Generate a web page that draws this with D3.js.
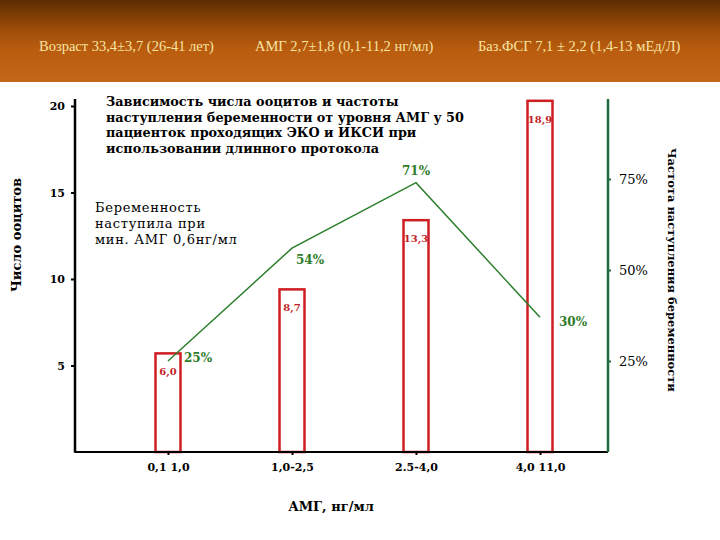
<!DOCTYPE html>
<html>
<head>
<meta charset="utf-8">
<script src="https://cdn.jsdelivr.net/npm/d3@7"></script>
<style>
  body { margin: 0; background: #fff; }
  svg { display: block; }
</style>
</head>
<body>
<div id="chart"></div>
<script>
// data
const headerTexts = ["Возраст 33,4±3,7 (26-41 лет)", "АМГ  2,7±1,8 (0,1-11,2 нг/мл)", "Баз.ФСГ  7,1 ± 2,2 (1,4-13 мЕд/Л)"];
const categories = ["0,1 1,0", "1,0-2,5", "2.5-4,0", "4,0 11,0"];
const oocytes = [5.7, 9.4, 13.4, 20.3];          // bar heights as drawn
const oocyteLabels = ["6,0", "8,7", "13,3", "18,9"];
const pregnancy = [25, 56, 74, 37];               // line points as drawn (%)
const pregnancyLabels = ["25%", "54%", "71%", "30%"];
const leftTicks = [5, 10, 15, 20];
const rightTicks = [25, 50, 75];
const titleLines = [
  "Зависимость числа ооцитов и частоты",
  "наступления беременности от уровня АМГ у 50",
  "пациенток проходящих ЭКО и ИКСИ при",
  "использовании длинного протокола"
];
const noteLines = ["Беременность", "наступила при", "мин. АМГ 0,6нг/мл"];

const width = 720, height = 540;
const serif = "'DejaVu Serif', serif";

const svg = d3.select("#chart").append("svg")
  .attr("width", width)
  .attr("height", height);

// header band
const defs = svg.append("defs");
const grad = defs.append("linearGradient")
  .attr("id", "hdr").attr("x1", 0).attr("y1", 0).attr("x2", 0).attr("y2", 1);
grad.append("stop").attr("offset", "0%").attr("stop-color", "#5c2c02");
grad.append("stop").attr("offset", "35%").attr("stop-color", "#9c4c08");
grad.append("stop").attr("offset", "60%").attr("stop-color", "#b95c0e");
grad.append("stop").attr("offset", "100%").attr("stop-color", "#c2661a");
svg.append("rect").attr("x", 0).attr("y", 0).attr("width", width).attr("height", 82)
  .attr("fill", "url(#hdr)");

const headerX = [39, 255, 478];
svg.selectAll(".hdr")
  .data(headerTexts)
  .enter()
  .append("text")
  .attr("x", (d, i) => headerX[i])
  .attr("y", 51)
  .attr("fill", "#f6e4a2")
  .style("font-family", "'Liberation Serif', serif")
  .style("font-size", "14.5px")
  .text(d => d);

// scales
const x = d3.scalePoint().domain(categories).range([168, 540]);
const yL = d3.scaleLinear().domain([0, 20]).range([452, 106]);
const yR = d3.scaleLinear().domain([0, 100]).range([452, 88]);

const axisLeftX = 75, axisRightX = 608;

// bars
const barW = 25;
svg.selectAll(".bar")
  .data(oocytes)
  .enter()
  .append("rect")
  .attr("x", (d, i) => x(categories[i]) - barW / 2)
  .attr("y", d => yL(d))
  .attr("width", barW)
  .attr("height", d => yL(0) - yL(d))
  .attr("fill", "#fff")
  .attr("stroke", "#cf1d24")
  .attr("stroke-width", 2.5);

svg.selectAll(".barlab")
  .data(oocyteLabels)
  .enter()
  .append("text")
  .attr("x", (d, i) => x(categories[i]))
  .attr("y", (d, i) => yL(oocytes[i]) + 22)
  .attr("text-anchor", "middle")
  .attr("fill", "#c21d25")
  .style("font-family", serif)
  .style("font-size", "10px")
  .style("font-weight", "bold")
  .text(d => d);

// left axis
const gL = svg.append("g").attr("transform", `translate(${axisLeftX},0)`)
  .call(d3.axisLeft(yL).tickValues(leftTicks).tickSize(4).tickPadding(6));
gL.select(".domain").remove();
gL.selectAll("line").attr("stroke", "#000").attr("stroke-width", 2);
gL.selectAll("text")
  .style("font-family", serif).style("font-size", "11px").style("font-weight", "bold")
  .attr("fill", "#000");
svg.append("line")
  .attr("x1", axisLeftX).attr("x2", axisLeftX)
  .attr("y1", yL(-0.05)).attr("y2", yL(20.4))
  .attr("stroke", "#000").attr("stroke-width", 2.5);

// bottom axis
const gB = svg.append("g").attr("transform", `translate(0,${yL(0)})`)
  .call(d3.axisBottom(x).tickSize(3).tickPadding(8));
gB.select(".domain").remove();
gB.selectAll("line").attr("stroke", "#000").attr("stroke-width", 2);
gB.selectAll("text")
  .style("font-family", serif).style("font-size", "11px").style("font-weight", "bold")
  .attr("fill", "#000");
svg.append("line")
  .attr("x1", axisLeftX).attr("x2", axisRightX)
  .attr("y1", yL(0)).attr("y2", yL(0))
  .attr("stroke", "#000").attr("stroke-width", 2);

// right axis
svg.append("line")
  .attr("x1", axisRightX).attr("x2", axisRightX)
  .attr("y1", yR(97)).attr("y2", yR(0))
  .attr("stroke", "#1d6b3e").attr("stroke-width", 2.5);
const gR = svg.append("g").attr("transform", `translate(${axisRightX},0)`)
  .call(d3.axisRight(yR).tickValues(rightTicks).tickFormat(d => d + "%").tickSize(3).tickPadding(8));
gR.select(".domain").remove();
gR.selectAll("line").attr("stroke", "#1d6b3e").attr("stroke-width", 2);
gR.selectAll("text")
  .style("font-family", serif).style("font-size", "13px")
  .attr("fill", "#000");

// pregnancy line
const line = d3.line()
  .x((d, i) => x(categories[i]))
  .y(d => yR(d));
svg.append("path")
  .datum(pregnancy)
  .attr("d", line)
  .attr("fill", "none")
  .attr("stroke", "#2d7f2d")
  .attr("stroke-width", 1.5);

const labDx = [30, 18, 0, 33];
const labDy = [-3, 12, -11, 5];
svg.selectAll(".pctlab")
  .data(pregnancyLabels)
  .enter()
  .append("text")
  .attr("x", (d, i) => x(categories[i]) + labDx[i])
  .attr("y", (d, i) => yR(pregnancy[i]) + labDy[i])
  .attr("text-anchor", "middle")
  .attr("dominant-baseline", "middle")
  .attr("fill", "#2f7d2a")
  .style("font-family", serif)
  .style("font-size", "12px")
  .style("font-weight", "bold")
  .text(d => d);

// title block
svg.append("g").selectAll("text")
  .data(titleLines)
  .enter()
  .append("text")
  .attr("x", 106)
  .attr("y", (d, i) => 106 + i * 15.5)
  .style("font-family", serif)
  .style("font-size", "12.8px")
  .style("font-weight", "bold")
  .attr("fill", "#000")
  .text(d => d);

// note
svg.append("g").selectAll("text")
  .data(noteLines)
  .enter()
  .append("text")
  .attr("x", 95)
  .attr("y", (d, i) => 212 + i * 16)
  .style("font-family", serif)
  .style("font-size", "13px")
  .style("letter-spacing", "0.7px")
  .attr("fill", "#000")
  .text(d => d);

// axis titles
svg.append("text")
  .attr("transform", "translate(21,235) rotate(-90)")
  .attr("text-anchor", "middle")
  .style("font-family", serif)
  .style("font-size", "13px")
  .style("font-weight", "bold")
  .text("Число ооцитов");

svg.append("text")
  .attr("transform", "translate(668,270) rotate(90)")
  .attr("text-anchor", "middle")
  .style("font-family", serif)
  .style("font-size", "11.5px")
  .style("font-weight", "bold")
  .text("Частота наступления беременности");

svg.append("text")
  .attr("x", 331)
  .attr("y", 511)
  .attr("text-anchor", "middle")
  .style("font-family", serif)
  .style("font-size", "13px")
  .style("font-weight", "bold")
  .text("АМГ, нг/мл");
</script>
</body>
</html>
